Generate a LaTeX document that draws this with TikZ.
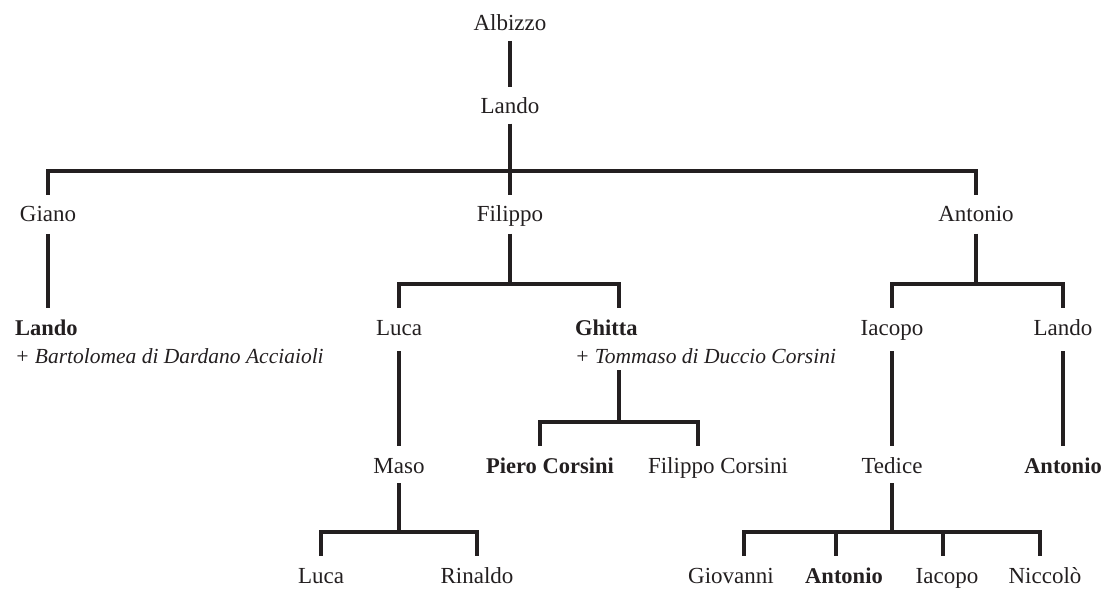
\documentclass[tikz,border=0pt]{standalone}
\usepackage{fontspec}
\setmainfont{Liberation Serif}
\usepackage{tikz}
\definecolor{ink}{RGB}{35,31,32}

\begin{document}
\begin{tikzpicture}[x=1bp,y=-1bp,
	person/.style={font=\fontsize{23bp}{28bp}\selectfont,text=ink,anchor=base,text height=18bp,text depth=1bp,inner ysep=9bp,inner xsep=0pt,outer sep=0pt},
	heir/.style={person,font=\fontsize{22.5bp}{28bp}\selectfont\bfseries},
	spouse/.style={person,anchor=base west,font=\fontsize{21.5bp}{28bp}\selectfont\itshape},
	kin/.style={draw=ink,line width=3.1bp}]
	\useasboundingbox (0,0) rectangle (1105,589);
	% first generations
	\node[person] (albizzo) at (510,31) {Albizzo};
	\node[person] (lando) at (510,114) {Lando};
	\node[person] (giano) at (48,222) {Giano};
	\node[person] (filippo) at (510,222) {Filippo};
	\node[person] (antonio) at (976,222) {Antonio};
	% third generation
	\node[heir,anchor=base west] (landoB) at (15,335) {Lando};
	\node[spouse] (bartolomea) at (15,363) {+ Bartolomea di Dardano Acciaioli};
	\node[person] (luca) at (399,335) {Luca};
	\node[heir,anchor=base west] (ghitta) at (575,335) {Ghitta};
	\node[spouse] (tommaso) at (575,363) {+ Tommaso di Duccio Corsini};
	\node[person] (iacopo) at (892,335) {Iacopo};
	\node[person] (landoR) at (1063,335) {Lando};
	\coordinate (ghtop) at (619,308);
	\coordinate (ghfoot) at (619,370);
	% fourth generation
	\node[person] (maso) at (399,473) {Maso};
	\node[heir] (piero) at (550,473) {Piero Corsini};
	\node[person] (filippoC) at (718,473) {Filippo Corsini};
	\node[person] (tedice) at (892,473) {Tedice};
	\node[heir] (antonioB) at (1063,473) {Antonio};
	% fifth generation
	\node[person] (lucaM) at (321,583) {Luca};
	\node[person] (rinaldo) at (477,583) {Rinaldo};
	\node[person] (giovanni) at (731,583) {Giovanni};
	\node[heir] (antonioT) at (844,583) {Antonio};
	\node[person] (iacopoT) at (947,583) {Iacopo};
	\node[person] (niccolo) at (1045,583) {Niccolò};

	\draw[kin] (albizzo) -- (lando);
	\draw[kin] (lando.south) |- ([yshift=24bp]giano.north) -- (giano.north);
	\draw[kin] (lando) -- (filippo);
	\draw[kin] (lando.south) |- ([yshift=24bp]antonio.north) -- (antonio.north);

	\draw[kin,shorten <=2bp] (giano.south) -- (giano.south |- landoB.north);
	\draw[kin,shorten <=2bp] (filippo.south) |- ([yshift=24bp]luca.north) -- (luca.north);
	\draw[kin,shorten <=2bp] (filippo.south) |- ([yshift=24bp]ghtop) -- (ghtop);
	\draw[kin,shorten <=2bp] (antonio.south) |- ([yshift=24bp]iacopo.north) -- (iacopo.north);
	\draw[kin,shorten <=2bp] (antonio.south) |- ([yshift=24bp]landoR.north) -- (landoR.north);

	\draw[kin,shorten <=6bp] (luca.south) -- (maso.north);
	\draw[kin] (ghfoot) |- ([yshift=24bp,xshift=-10bp]piero.north) -- ([xshift=-10bp]piero.north);
	\draw[kin] (ghfoot) |- ([yshift=24bp,xshift=-20bp]filippoC.north) -- ([xshift=-20bp]filippoC.north);
	\draw[kin,shorten <=6bp] (iacopo.south) -- (tedice.north);
	\draw[kin,shorten <=6bp] (landoR.south) -- (antonioB.north);

	\draw[kin] (maso.south) |- ([yshift=24bp]lucaM.north) -- (lucaM.north);
	\draw[kin] (maso.south) |- ([yshift=24bp]rinaldo.north) -- (rinaldo.north);
	\draw[kin] (tedice.south) |- ([yshift=24bp,xshift=13bp]giovanni.north) -- ([xshift=13bp]giovanni.north);
	\draw[kin] (tedice.south) |- ([yshift=24bp,xshift=-8bp]antonioT.north) -- ([xshift=-8bp]antonioT.north);
	\draw[kin] (tedice.south) |- ([yshift=24bp,xshift=-4bp]iacopoT.north) -- ([xshift=-4bp]iacopoT.north);
	\draw[kin] (tedice.south) |- ([yshift=24bp,xshift=-5bp]niccolo.north) -- ([xshift=-5bp]niccolo.north);
\end{tikzpicture}
\end{document}
